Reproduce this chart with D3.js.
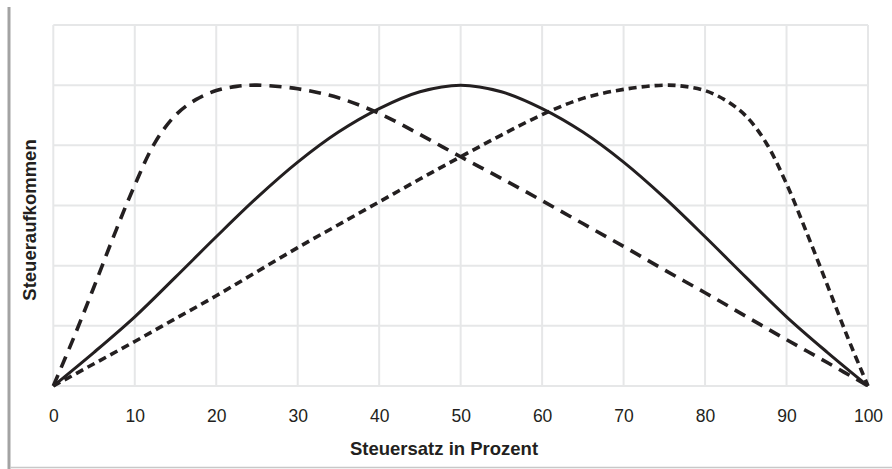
<!DOCTYPE html>
<html>
<head>
<meta charset="utf-8">
<script src="https://cdn.jsdelivr.net/npm/d3@7"></script>
<style>
  html, body { margin: 0; padding: 0; background: #fff; }
  svg { display: block; }
</style>
</head>
<body>
<svg id="chart" width="892" height="469"></svg>
<script>
// ---- Data ----
const xTicks = [0, 10, 20, 30, 40, 50, 60, 70, 80, 90, 100];
const yGrid = [0, 1, 2, 3, 4, 5, 6];

const solidX = [0, 5, 10, 15, 20, 25, 30, 35, 40, 45, 50, 55, 60, 65, 70, 75, 80, 85, 90, 95, 100];
const solidY = [0, 0.56, 1.15, 1.81, 2.48, 3.13, 3.72, 4.22, 4.61, 4.89, 5.0, 4.89, 4.61, 4.22, 3.72, 3.13, 2.48, 1.81, 1.15, 0.56, 0];

const longDashX = [0, 2.5, 5, 7.5, 10, 12.5, 15, 17.5, 20, 22.5, 25, 30, 35, 40, 45, 50, 55, 60, 65, 70, 75, 80, 85, 90, 95, 100];
const longDashY = [0, 0.8, 1.65, 2.52, 3.34, 4.05, 4.5, 4.76, 4.91, 4.98, 5.0, 4.94, 4.79, 4.53, 4.18, 3.81, 3.45, 3.08, 2.7, 2.32, 1.93, 1.55, 1.16, 0.77, 0.39, 0];

const shortDashX = [0, 5, 10, 15, 20, 25, 30, 35, 40, 45, 50, 55, 60, 65, 70, 75, 77.5, 80, 82.5, 85, 87.5, 90, 92.5, 95, 97.5, 100];
const shortDashY = [0, 0.37, 0.74, 1.12, 1.5, 1.9, 2.3, 2.68, 3.06, 3.44, 3.81, 4.17, 4.51, 4.78, 4.93, 5.0, 4.98, 4.91, 4.75, 4.49, 4.04, 3.36, 2.54, 1.68, 0.81, 0];

const xTitle = "Steuersatz in Prozent";
const yTitle = "Steueraufkommen";

// ---- Layout ----
const svg = d3.select("#chart");
const W = 892, H = 469;
const plot = { left: 53.3, right: 868, top: 25, bottom: 386 };

const x = d3.scaleLinear().domain([0, 100]).range([plot.left, plot.right]);
const y = d3.scaleLinear().domain([0, 6]).range([plot.bottom, plot.top]);

const ink = "#231f20";
const gridColor = "#e6e7e8";

// Frame decorations: left grey bar and bottom rule
svg.append("rect").attr("x", 7.5).attr("y", 7).attr("width", 3).attr("height", H - 7).attr("fill", "#a3a3a3");
svg.append("line").attr("x1", 10).attr("x2", W).attr("y1", 467.5).attr("y2", 467.5)
  .attr("stroke", "#c8c8c8").attr("stroke-width", 1.5);

// Grid
const g = svg.append("g");
g.selectAll("line.v").data(xTicks).join("line")
  .attr("x1", d => x(d)).attr("x2", d => x(d))
  .attr("y1", plot.top).attr("y2", plot.bottom)
  .attr("stroke", gridColor).attr("stroke-width", 2);
g.selectAll("line.h").data(yGrid).join("line")
  .attr("x1", plot.left).attr("x2", plot.right)
  .attr("y1", d => y(d)).attr("y2", d => y(d))
  .attr("stroke", gridColor).attr("stroke-width", 2);

// X axis labels via d3 axis
const xAxis = d3.axisBottom(x).tickValues(xTicks).tickSize(0).tickPadding(0).tickFormat(d3.format("d"));
const ax = svg.append("g").attr("transform", `translate(0,${plot.bottom})`).call(xAxis);
ax.select(".domain").remove();
ax.selectAll("text")
  .attr("y", 36).attr("dy", 0)
  .attr("fill", ink)
  .style("font-family", "'Liberation Sans', Arial, Helvetica, sans-serif")
  .style("font-size", "17.5px");

// Titles
svg.append("text")
  .attr("x", 444).attr("y", 455)
  .attr("text-anchor", "middle")
  .attr("fill", ink)
  .style("font-family", "'Liberation Sans', Arial, Helvetica, sans-serif")
  .style("font-weight", "bold").style("font-size", "18.5px")
  .text(xTitle);

svg.append("text")
  .attr("transform", "translate(36,220) rotate(-90)")
  .attr("text-anchor", "middle")
  .attr("fill", ink)
  .style("font-family", "'Liberation Sans', Arial, Helvetica, sans-serif")
  .style("font-weight", "bold").style("font-size", "18.5px")
  .text(yTitle);

// Curves
const line = d3.line().x(d => x(d[0])).y(d => y(d[1])).curve(d3.curveCatmullRom.alpha(0.5));
const series = [
  { xs: solidX, ys: solidY, dash: null, w: 3 },
  { xs: longDashX, ys: longDashY, dash: "12,8", w: 3.6 },
  { xs: shortDashX, ys: shortDashY, dash: "8,5", w: 3.6 }
];
series.forEach(s => {
  const pts = s.xs.map((v, i) => [v, s.ys[i]]);
  svg.append("path")
    .datum(pts)
    .attr("d", line)
    .attr("fill", "none")
    .attr("stroke", ink)
    .attr("stroke-width", s.w)
    .attr("stroke-dasharray", s.dash)
    .attr("stroke-linejoin", "round");
});
</script>
</body>
</html>
